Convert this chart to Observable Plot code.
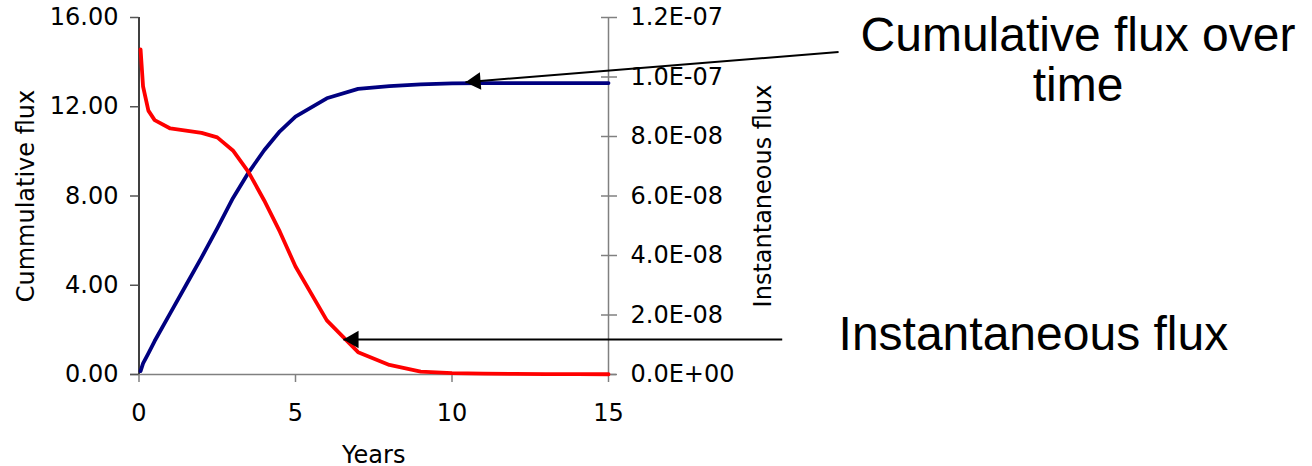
<!DOCTYPE html>
<html>
<head>
<meta charset="utf-8">
<script src="https://cdn.jsdelivr.net/npm/d3@7"></script>
<script src="https://cdn.jsdelivr.net/npm/@observablehq/plot@0.6"></script>
<style>
  html, body { margin: 0; padding: 0; background: #fff; }
  #chart svg { display: block; }
</style>
</head>
<body>
<div id="chart"></div>
<script>
// ---- data ----
const years = [0.05, 0.13, 0.3, 0.5, 1, 1.5, 2, 2.5, 3, 3.5, 4, 4.5, 5, 6, 7, 8, 9, 10, 11, 12, 13, 14, 15];
const cumulativeFlux = [0.15, 0.5, 0.95, 1.5, 2.75, 4.0, 5.25, 6.55, 7.9, 9.05, 10.05, 10.9, 11.56, 12.38, 12.8, 12.92, 13.0, 13.05, 13.06, 13.06, 13.06, 13.06, 13.06];
const instantaneousFlux = [1.093e-7, 9.68e-8, 8.87e-8, 8.55e-8, 8.27e-8, 8.2e-8, 8.12e-8, 7.97e-8, 7.53e-8, 6.8e-8, 5.85e-8, 4.8e-8, 3.63e-8, 1.82e-8, 7.5e-9, 3.2e-9, 1.0e-9, 4.5e-10, 3e-10, 2.2e-10, 1.5e-10, 1.1e-10, 8e-11];

const xTicks = [0, 5, 10, 15];
const leftTicks = [0, 4, 8, 12, 16];
const rightTicks = [0, 2e-8, 4e-8, 6e-8, 8e-8, 1e-7, 1.2e-7];

const leftMax = 16;
const rightMax = 1.2e-7;

// annotation callouts (in data units: years / cumulative-axis units)
const cumulativeNote = {label: "Cumulative flux over\ntime", tipX: 10.43, tipY: 13.1, tailX: 22.35, tailY: 14.45, textX: 30, textY: 12.24};
const instantNote = {label: "Instantaneous flux", tipX: 6.53, tipY: 1.57, tailX: 20.55, tailY: 1.57, textX: 22.35, textY: 1.08};

// ---- helpers ----
const toLeft = v => v / rightMax * leftMax;
const fromLeft = v => v / leftMax * rightMax;
function fmtE(v) {
  if (Math.abs(v) < 1e-15) return "0.0E+00";
  const e = Math.floor(Math.log10(Math.abs(v)) + 1e-9);
  const m = v / Math.pow(10, e);
  return m.toFixed(1) + "E" + (e < 0 ? "-" : "+") + String(Math.abs(e)).padStart(2, "0");
}

const cumTable = years.map((x, i) => ({x, y: cumulativeFlux[i]}));
const instTable = years.map((x, i) => ({x, y: toLeft(instantaneousFlux[i])}));

const tickFont = "DejaVu Sans, Verdana, sans-serif";
const noteFont = "Liberation Sans, Arial, Helvetica, sans-serif";

const chart = Plot.plot({
  width: 1312,
  height: 466,
  marginLeft: 138.5,
  marginRight: 704,
  marginTop: 17,
  marginBottom: 92,
  x: {domain: [0, 15]},
  y: {domain: [0, leftMax]},
  style: {fontFamily: tickFont, fontSize: "24px", background: "#fff", color: "#000", overflow: "visible"},
  marks: [
    // axes lines
    Plot.ruleY([0], {stroke: "#808080", strokeWidth: 1.5, insetLeft: -8.5, insetRight: -8}),
    Plot.ruleX([0], {stroke: "#000", strokeWidth: 1.5}),
    Plot.ruleX([15], {stroke: "#808080", strokeWidth: 1.5}),
    // x axis
    Plot.axisX(xTicks, {tickSize: 8, tickPadding: 21, stroke: "#808080", strokeWidth: 1.5, fill: "#000", fontSize: 24, fontFamily: tickFont, label: null}),
    // left axis
    Plot.axisY(leftTicks, {anchor: "left", tickSize: 8.5, tickPadding: 12, tickFormat: d => d.toFixed(2), stroke: "#555", strokeWidth: 1.5, fill: "#000", fontSize: 24, fontFamily: tickFont, label: null}),
    // right axis (ticks crossing the axis)
    Plot.axisY(rightTicks.map(toLeft), {anchor: "right", tickSize: 8, tickPadding: 14, tickFormat: d => fmtE(fromLeft(d)), stroke: "#808080", strokeWidth: 1.5, fill: "#000", fontSize: 24, fontFamily: tickFont, label: null}),
    Plot.axisY(rightTicks.map(toLeft), {anchor: "right", tickSize: 8, dx: -8, tickFormat: () => "", stroke: "#808080", strokeWidth: 1.5, label: null}),
    // axis titles
    Plot.text(["Cummulative flux"], {text: d => d, frameAnchor: "left", rotate: -90, dx: -105.5, textAnchor: "middle", lineAnchor: "bottom", fontSize: 24, fontFamily: tickFont, fill: "#000"}),
    Plot.text(["Instantaneous flux"], {text: d => d, frameAnchor: "right", rotate: -90, dx: 162, textAnchor: "middle", lineAnchor: "bottom", fontSize: 24, fontFamily: tickFont, fill: "#000"}),
    Plot.text(["Years"], {text: d => d, frameAnchor: "bottom", dy: 88, textAnchor: "middle", lineAnchor: "bottom", fontSize: 24, fontFamily: tickFont, fill: "#000"}),
    // series
    Plot.line(cumTable, {x: "x", y: "y", stroke: "#000080", strokeWidth: 3.8, strokeLinejoin: "round"}),
    Plot.line(instTable, {x: "x", y: "y", stroke: "#ff0000", strokeWidth: 3.8, strokeLinejoin: "round"}),
    // callout arrows
    Plot.link([cumulativeNote, instantNote], {x1: "tailX", y1: "tailY", x2: "tipX", y2: "tipY", stroke: "#000", strokeWidth: 2}),
    Plot.dot([cumulativeNote], {x: "tipX", y: "tipY", symbol: "triangle", r: 6.5, fill: "#000", stroke: "none", rotate: 265.4, dx: 10.07, dy: -0.81}),
    Plot.dot([instantNote], {x: "tipX", y: "tipY", symbol: "triangle", r: 6.5, fill: "#000", stroke: "none", rotate: 270, dx: 10.1}),
    // callout texts
    Plot.text([cumulativeNote], {x: "textX", y: "textY", text: "label", textAnchor: "middle", lineAnchor: "bottom", lineHeight: 1.04, fontSize: 48, fontFamily: noteFont, fill: "#000"}),
    Plot.text([instantNote], {x: "textX", y: "textY", text: "label", textAnchor: "start", lineAnchor: "bottom", fontSize: 48, fontFamily: noteFont, fill: "#000"})
  ]
});

document.getElementById("chart").appendChild(chart);
</script>
</body>
</html>
